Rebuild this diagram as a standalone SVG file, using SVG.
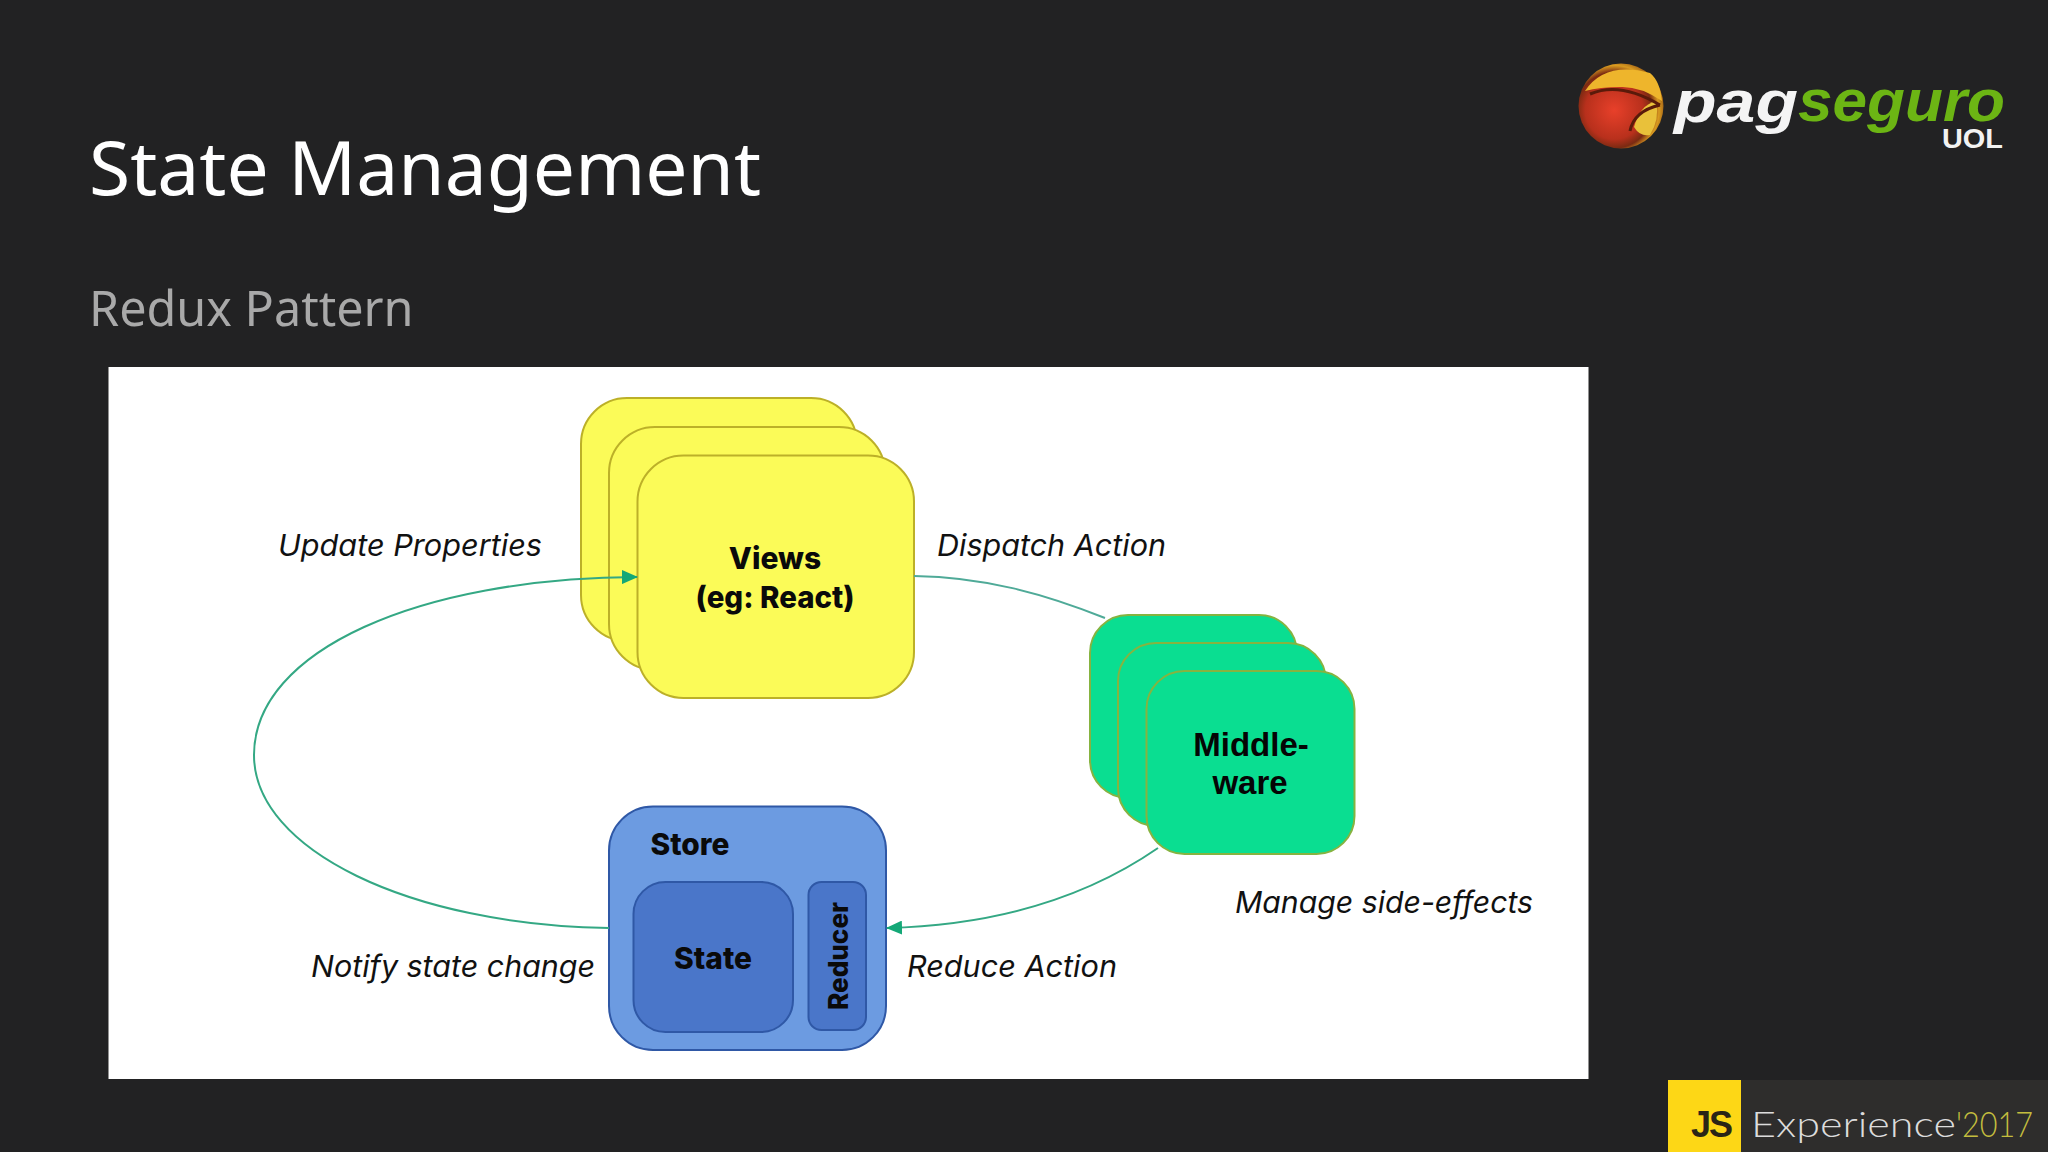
<svg xmlns="http://www.w3.org/2000/svg" width="2048" height="1152" viewBox="0 0 2048 1152">
<style>
.title{font-family:"Noto Sans","Open Sans",sans-serif;fill:#fff}
.lab{font-family:"Inter","Liberation Sans",sans-serif;font-style:italic;font-size:30px;fill:#111}
.b{font-family:"Inter","Liberation Sans",sans-serif;font-weight:800;font-size:30px;fill:#0a0a0a;text-anchor:middle}
.mw{font-family:"Liberation Sans",Arial,sans-serif;font-weight:700;font-size:33px;fill:#050505;text-anchor:middle}
.y{fill:#fbfb58;stroke:#bcb028;stroke-width:2}
.g{fill:#0ade91;stroke:#86b340;stroke-width:2}
.c{fill:none;stroke:#34a884;stroke-width:2}
.s{fill:#4a76c9;stroke:#2f58a6;stroke-width:2}
.lg{font-family:"Liberation Sans",sans-serif;font-weight:700}
</style>
<defs>
<marker id="ah" markerWidth="16" markerHeight="14" refX="15" refY="7" orient="auto" markerUnits="userSpaceOnUse"><path d="M0 0L16 7L0 14z" fill="#14a877"/></marker>
<radialGradient id="globe" cx="42%" cy="55%" r="62%"><stop offset="0" stop-color="#e8402a"/><stop offset=".55" stop-color="#b8301c"/><stop offset=".72" stop-color="#7a2a12"/><stop offset=".85" stop-color="#d89a20"/><stop offset="1" stop-color="#8a4a12"/></radialGradient>
</defs>
<rect width="2048" height="1152" fill="#222223"/>
<text class="title" x="89" y="195" font-size="75">State Management</text>
<text class="title" x="89" y="326" font-size="48.5" style="fill:#a9a9a9">Redux Pattern</text>
<g id="pagseguro-logo">
<circle cx="1621" cy="106" r="42.500" fill="url(#globe)"/>
<path d="M1585 91Q1605 61 1650 73Q1660 81 1662 101Q1640 86 1620 87Q1600 87 1585 91z" fill="#eeb52c"/>
<path d="M1634 127Q1640 105 1656 101Q1660 119 1650 135Q1640 137 1634 127z" fill="#e9c13a"/>
<path d="M1590 94Q1620 81 1660 105M1630 131Q1634 111 1660 105" fill="none" stroke="#5a1a0a" stroke-width="3"/>
<text class="lg" x="1674" y="122" font-style="italic" font-size="60" fill="#f4f4f4" textLength="124" lengthAdjust="spacingAndGlyphs">pag</text>
<text class="lg" x="1798" y="121" font-style="italic" font-size="60" fill="#6cb514" textLength="207" lengthAdjust="spacingAndGlyphs">seguro</text>
<text class="lg" x="1942" y="148" font-size="27" fill="#f2f2f2" textLength="61" lengthAdjust="spacingAndGlyphs">UOL</text>
</g>
<g id="jsexperience-logo">
<rect x="1741" y="1080" width="307" height="72" fill="#2e2d2c"/>
<rect x="1668" y="1080" width="73" height="72" fill="#fdd716"/>
<text class="lg" x="1691" y="1137" font-size="36" fill="#2a2516" textLength="42">JS</text>
<text x="1751" y="1137" font-family="'Lato',sans-serif" font-weight="300" font-size="35" fill="#dcdcdc" textLength="205" lengthAdjust="spacingAndGlyphs">Experience</text>
<text x="1956" y="1137" font-family="'Lato',sans-serif" font-weight="300" font-size="35" fill="#c3bd3e" textLength="77" lengthAdjust="spacingAndGlyphs">'2017</text>
</g>
<rect id="panel" x="108.500" y="367" width="1480" height="712" fill="#fff"/>
<g id="views">
<rect class="y" x="581" y="398" width="276" height="243" rx="46"/>
<rect class="y" x="609" y="427" width="276" height="243" rx="46"/>
<rect class="y" x="637.500" y="455.500" width="276.500" height="242.500" rx="46"/>
<text class="b" x="775" y="569">Views</text>
<text class="b" x="775" y="608" textLength="159" lengthAdjust="spacingAndGlyphs">(eg: React)</text>
</g>
<g id="middleware">
<rect class="g" x="1090" y="615" width="207" height="183" rx="38"/>
<rect class="g" x="1118" y="643" width="208" height="183" rx="38"/>
<rect class="g" x="1146.500" y="671" width="208" height="183" rx="38"/>
<text class="mw" x="1251" y="756">Middle-</text>
<text class="mw" x="1250" y="794">ware</text>
</g>
<g id="store">
<rect x="609" y="806.500" width="277" height="243.500" rx="44" fill="#6c9be1" stroke="#2f58a6" stroke-width="2"/>
<text class="b" x="690" y="855" textLength="79" lengthAdjust="spacingAndGlyphs">Store</text>
</g>
<g id="state">
<rect class="s" x="633.500" y="882" width="159.500" height="150" rx="32"/>
<text class="b" x="713" y="969" textLength="78" lengthAdjust="spacingAndGlyphs">State</text>
</g>
<g id="reducer">
<rect class="s" x="808.500" y="882" width="57.500" height="148" rx="13"/>
<text class="b" transform="translate(848 956) rotate(-90)" style="font-size:27px" textLength="108" lengthAdjust="spacingAndGlyphs">Reducer</text>
</g>
<g id="connectors">
<path class="c" d="M609 928C410 925 254 850 254 755C254 650 420 578 637 577" marker-end="url(#ah)"/>
<path class="c" d="M914 576C985 577 1045 594 1105 618" style="stroke:#4faa98"/>
<path class="c" d="M1158 848C1090 895 1000 925 887 928" marker-end="url(#ah)"/>
</g>
<g id="labels">
<text class="lab" x="278" y="556" textLength="264" lengthAdjust="spacingAndGlyphs">Update Properties</text>
<text class="lab" x="937" y="556" textLength="229" lengthAdjust="spacingAndGlyphs">Dispatch Action</text>
<text class="lab" x="1235" y="913" textLength="298" lengthAdjust="spacingAndGlyphs">Manage side-effects</text>
<text class="lab" x="311" y="977" textLength="284" lengthAdjust="spacingAndGlyphs">Notify state change</text>
<text class="lab" x="907" y="977" textLength="210" lengthAdjust="spacingAndGlyphs">Reduce Action</text>
</g>
</svg>
